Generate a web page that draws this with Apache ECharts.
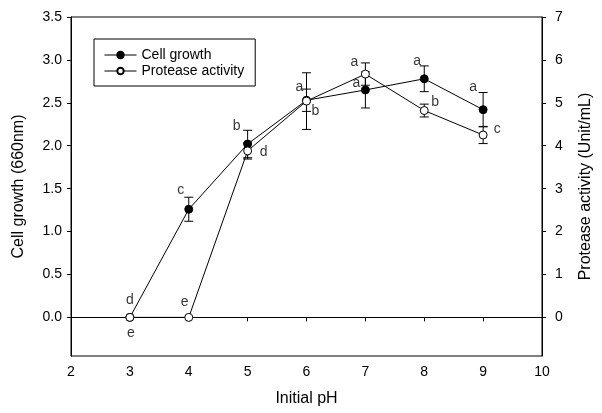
<!DOCTYPE html>
<html>
<head>
<meta charset="utf-8">
<script src="https://cdn.jsdelivr.net/npm/echarts@6/dist/echarts.min.js"></script>
<style>
  html, body { margin: 0; padding: 0; background: #fff; }
  #chart { width: 602px; height: 413px; }
</style>
</head>
<body>
<div id="chart"></div>
<script>
// data
const pH = [3, 4, 5, 6, 7, 8, 9];
const cellGrowth = [0, 1.26, 2.02, 2.53, 2.65, 2.78, 2.42];
const cellGrowthErr = [0, 0.14, 0.16, 0.13, 0.21, 0.15, 0.20];
const proteaseActivity = [0, 0, 3.88, 5.04, 5.67, 4.82, 4.25];
const proteaseErr = [0, 0, 0.19, 0.66, 0.26, 0.15, 0.20];
const cellLetters = ['d', 'c', 'b', 'a', 'a', 'a', 'a'];
const proteaseLetters = ['e', 'e', 'd', 'b', 'a', 'b', 'c'];
const leftTicks = [0, 0.5, 1, 1.5, 2, 2.5, 3, 3.5];
const rightTicks = [0, 1, 2, 3, 4, 5, 6, 7];

// where each letter sits relative to its point (px)
const cellLetterOffsets = [[0, -17], [-8, -19], [-11, -18], [-7, -13], [-9, -7], [-7, -18], [-10, -23]];
const proteaseLetterOffsets = [[1, 16], [-4, -15], [16, 1], [9, 10], [-11, -12], [11, -8], [14, -6]];

const FONT = 'Liberation Sans, Arial, sans-serif';
const black = '#000';

function renderErrorBar(params, api) {
    const x = api.value(0);
    const lo = api.coord([x, api.value(1)]);
    const hi = api.coord([x, api.value(2)]);
    const hw = 4.5;
    const style = {stroke: black, lineWidth: 1};
    return {
        type: 'group',
        children: [
            {type: 'line', shape: {x1: lo[0], y1: lo[1], x2: hi[0], y2: hi[1]}, style},
            {type: 'line', shape: {x1: lo[0] - hw, y1: lo[1], x2: lo[0] + hw, y2: lo[1]}, style},
            {type: 'line', shape: {x1: hi[0] - hw, y1: hi[1], x2: hi[0] + hw, y2: hi[1]}, style},
        ],
    };
}

const errData = (vals, errs) => pH.map((x, i) => [x, vals[i] - errs[i], vals[i] + errs[i]]);
const letterData = (vals, letters, offsets) => pH.map((x, i) => ({
    value: [x, vals[i]],
    label: {formatter: letters[i], offset: offsets[i]},
}));

const chart = echarts.init(document.getElementById('chart'));
chart.setOption({
    animation: false,
    textStyle: {fontFamily: FONT, color: black},
    grid: {left: 71, right: 55, top: 17, bottom: 57, containLabel: false,
        show: true, borderColor: black, borderWidth: 1},
    legend: {
        data: ['Cell growth', 'Protease activity'],
        orient: 'vertical',
        left: 94, top: 39,
        padding: [9, 11, 8, 10],
        borderColor: black, borderWidth: 1,
        itemWidth: 32, itemHeight: 8, itemGap: 2,
        lineStyle: {width: 1},
        textStyle: {fontSize: 14, color: black, fontFamily: FONT},
    },
    xAxis: {
        type: 'value', min: 2, max: 10, interval: 1,
        name: 'Initial pH', nameLocation: 'middle', nameGap: 35,
        nameTextStyle: {fontSize: 16, color: black, fontFamily: FONT},
        axisLine: {lineStyle: {color: black, width: 1}},
        axisTick: {inside: false, length: 4, lineStyle: {color: black}},
        axisLabel: {fontSize: 14, color: black, margin: 9, fontFamily: FONT},
        splitLine: {show: false},
    },
    yAxis: [
        {
            type: 'value', min: -0.45, max: 3.5, position: 'left',
            name: 'Cell growth (660nm)', nameLocation: 'middle', nameGap: 44, nameRotate: 90,
            nameTextStyle: {fontSize: 16, color: black, fontFamily: FONT},
            axisLine: {show: true, lineStyle: {color: black, width: 1}},
            axisTick: {show: true, inside: false, length: 4, customValues: leftTicks, lineStyle: {color: black}},
            axisLabel: {fontSize: 14, color: black, margin: 9, customValues: leftTicks,
                formatter: (v) => v.toFixed(1), fontFamily: FONT},
            splitLine: {show: false},
        },
        {
            type: 'value', min: -0.9, max: 7, position: 'right',
            name: 'Protease activity (Unit/mL)', nameLocation: 'middle', nameGap: 36, nameRotate: 90,
            nameTextStyle: {fontSize: 16, color: black, fontFamily: FONT},
            axisLine: {show: true, lineStyle: {color: black, width: 1}},
            axisTick: {show: true, inside: false, length: 4, customValues: rightTicks, lineStyle: {color: black}},
            axisLabel: {fontSize: 14, color: black, margin: 13, customValues: rightTicks, fontFamily: FONT},
            splitLine: {show: false},
        },
    ],
    series: [
        {
            name: 'cellErr', type: 'custom', yAxisIndex: 0, z: 2, silent: true,
            renderItem: renderErrorBar, data: errData(cellGrowth, cellGrowthErr),
        },
        {
            name: 'proteaseErr', type: 'custom', yAxisIndex: 1, z: 2, silent: true,
            renderItem: renderErrorBar, data: errData(proteaseActivity, proteaseErr),
        },
        {
            name: 'Cell growth', type: 'line', yAxisIndex: 0, z: 3,
            data: pH.map((x, i) => [x, cellGrowth[i]]),
            symbol: 'circle', symbolSize: 8, showAllSymbol: true,
            lineStyle: {color: black, width: 1},
            itemStyle: {color: black, borderColor: black, borderWidth: 1},
        },
        {
            name: 'Protease activity', type: 'line', yAxisIndex: 1, z: 4,
            data: pH.map((x, i) => [x, proteaseActivity[i]]),
            symbol: 'circle', symbolSize: 8, showAllSymbol: true,
            lineStyle: {color: black, width: 1},
            itemStyle: {color: '#fff', borderColor: black, borderWidth: 1},
        },
        {
            name: 'cellLetters', type: 'scatter', yAxisIndex: 0, z: 5, silent: true,
            symbolSize: 0,
            label: {show: true, position: 'inside', fontSize: 14, color: black, fontFamily: FONT},
            data: letterData(cellGrowth, cellLetters, cellLetterOffsets),
        },
        {
            name: 'proteaseLetters', type: 'scatter', yAxisIndex: 1, z: 5, silent: true,
            symbolSize: 0,
            label: {show: true, position: 'inside', fontSize: 14, color: black, fontFamily: FONT},
            data: letterData(proteaseActivity, proteaseLetters, proteaseLetterOffsets),
        },
    ],
});
</script>
</body>
</html>
